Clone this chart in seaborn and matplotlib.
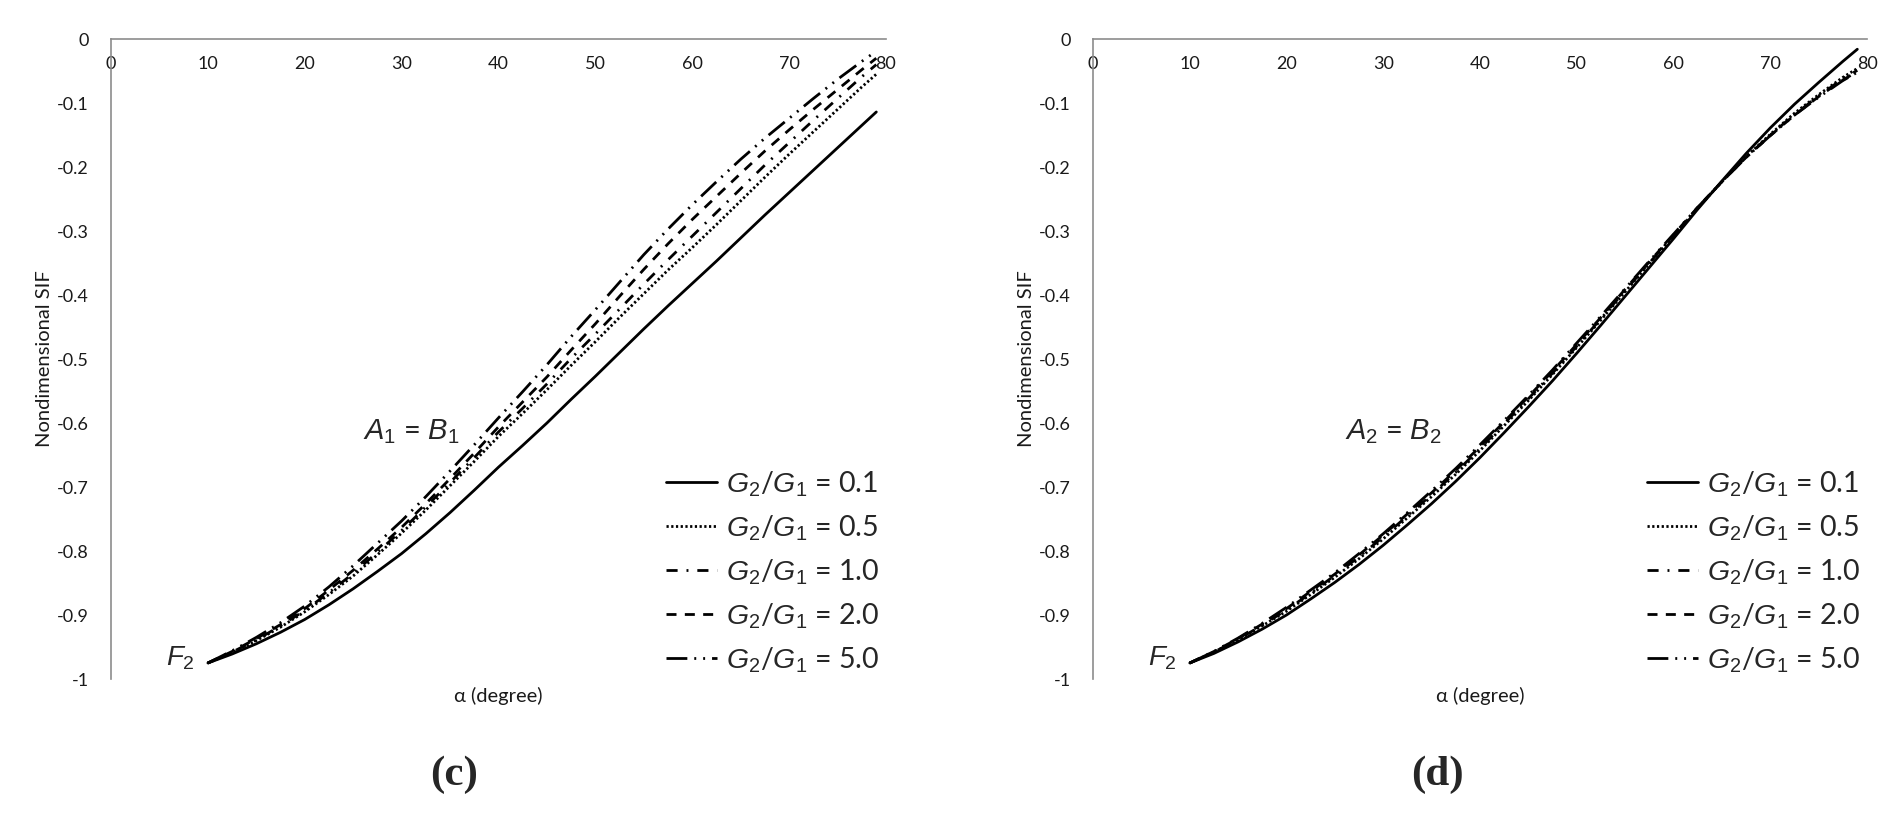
import numpy as np
import pandas as pd
import matplotlib
matplotlib.use("Agg")
import matplotlib.pyplot as plt
import seaborn as sns

# ---------------- data ----------------
alpha = [10, 12.5, 15, 17.5, 20, 22.5, 25, 27.5, 30, 32.5, 35, 37.5, 40, 42.5, 45,
         47.5, 50, 52.5, 55, 57.5, 60, 62.5, 65, 67.5, 70, 72.5, 75, 77.5, 79]
ratio_labels = ["0.1", "0.5", "1.0", "2.0", "5.0"]

# panel (c): A1 = B1
c_g01 = [-0.975, -0.961, -0.945, -0.927, -0.907, -0.884, -0.859, -0.832, -0.804, -0.773, -0.740, -0.705, -0.669, -0.635, -0.600,
         -0.563, -0.527, -0.490, -0.453, -0.417, -0.382, -0.347, -0.311, -0.275, -0.240, -0.205, -0.170, -0.135, -0.114]
c_g05 = [-0.975, -0.959, -0.940, -0.919, -0.895, -0.868, -0.839, -0.806, -0.772, -0.736, -0.698, -0.660, -0.621, -0.585, -0.548,
         -0.510, -0.473, -0.435, -0.398, -0.361, -0.326, -0.290, -0.253, -0.216, -0.180, -0.145, -0.110, -0.075, -0.055]
c_g10 = [-0.975, -0.958, -0.939, -0.917, -0.893, -0.865, -0.835, -0.802, -0.768, -0.731, -0.693, -0.654, -0.614, -0.577, -0.539,
         -0.499, -0.461, -0.422, -0.383, -0.345, -0.308, -0.271, -0.234, -0.197, -0.162, -0.127, -0.093, -0.059, -0.040]
c_g20 = [-0.975, -0.957, -0.937, -0.915, -0.890, -0.861, -0.830, -0.797, -0.763, -0.726, -0.687, -0.647, -0.606, -0.567, -0.528,
         -0.486, -0.445, -0.402, -0.360, -0.320, -0.282, -0.246, -0.210, -0.175, -0.142, -0.110, -0.079, -0.048, -0.030]
c_g50 = [-0.975, -0.956, -0.935, -0.912, -0.886, -0.856, -0.823, -0.788, -0.753, -0.715, -0.675, -0.634, -0.592, -0.551, -0.509,
         -0.465, -0.423, -0.380, -0.337, -0.297, -0.259, -0.223, -0.188, -0.155, -0.124, -0.093, -0.063, -0.035, -0.019]

# panel (d): A2 = B2
d_g01 = [-0.975, -0.960, -0.942, -0.922, -0.900, -0.875, -0.849, -0.821, -0.791, -0.759, -0.726, -0.691, -0.654, -0.615, -0.575,
         -0.534, -0.491, -0.447, -0.402, -0.357, -0.312, -0.266, -0.222, -0.179, -0.139, -0.102, -0.068, -0.035, -0.016]
d_g05 = [-0.975, -0.958, -0.939, -0.917, -0.894, -0.868, -0.841, -0.812, -0.781, -0.748, -0.715, -0.680, -0.643, -0.604, -0.565,
         -0.524, -0.482, -0.439, -0.395, -0.351, -0.308, -0.264, -0.223, -0.184, -0.149, -0.116, -0.087, -0.060, -0.046]
d_g10 = [-0.975, -0.958, -0.938, -0.916, -0.892, -0.866, -0.838, -0.809, -0.778, -0.745, -0.712, -0.677, -0.640, -0.601, -0.562,
         -0.522, -0.480, -0.437, -0.393, -0.350, -0.307, -0.264, -0.223, -0.185, -0.150, -0.118, -0.089, -0.062, -0.049]
d_g20 = [-0.975, -0.957, -0.937, -0.914, -0.890, -0.863, -0.836, -0.806, -0.775, -0.742, -0.709, -0.674, -0.637, -0.598, -0.559,
         -0.519, -0.477, -0.435, -0.391, -0.348, -0.306, -0.263, -0.223, -0.185, -0.151, -0.119, -0.090, -0.064, -0.051]
d_g50 = [-0.975, -0.957, -0.936, -0.913, -0.888, -0.861, -0.834, -0.804, -0.773, -0.740, -0.706, -0.671, -0.634, -0.596, -0.557,
         -0.517, -0.475, -0.433, -0.390, -0.347, -0.305, -0.263, -0.223, -0.185, -0.151, -0.119, -0.091, -0.065, -0.052]

x_ticks = [0, 10, 20, 30, 40, 50, 60, 70, 80]
x_ticklabels = ["0", "10", "20", "30", "40", "50", "60", "70", "80"]
y_ticks = [0, -0.1, -0.2, -0.3, -0.4, -0.5, -0.6, -0.7, -0.8, -0.9, -1.0]
y_ticklabels = ["0", "-0.1", "-0.2", "-0.3", "-0.4", "-0.5", "-0.6", "-0.7", "-0.8", "-0.9", "-1"]

# ---------------- style ----------------
sns.set_theme(style="white")
plt.rcParams["font.family"] = ["Lato", "DejaVu Sans"]
plt.rcParams["axes.unicode_minus"] = False
plt.rcParams["mathtext.fontset"] = "custom"
plt.rcParams["mathtext.it"] = "Liberation Sans:italic"
plt.rcParams["mathtext.rm"] = "Liberation Sans"

linestyles = [
    "-",
    (0, (0.8, 0.9)),
    (0, (4, 3.2, 0.7, 3.2)),
    (0, (3.6, 3.0)),
    (0, (7.5, 2.5, 0.7, 2.5, 0.7, 2.5)),
]

fig = plt.figure(figsize=(18.98, 8.16), dpi=100)
W, H = 1898, 816


def make_axes(left_px, right_px, top_px, bottom_px):
    return fig.add_axes([left_px / W, 1 - bottom_px / H,
                         (right_px - left_px) / W, (bottom_px - top_px) / H])


panels = [
    (make_axes(111, 886, 39, 679), [c_g01, c_g05, c_g10, c_g20, c_g50], "1", "(c)", 454),
    (make_axes(1093, 1867, 39, 679), [d_g01, d_g05, d_g10, d_g20, d_g50], "2", "(d)", 1437),
]

for ax, series, sub, tag, tag_x in panels:
    for vals, lab, ls in zip(series, ratio_labels, linestyles):
        df = pd.DataFrame({"alpha": alpha, "sif": vals})
        sns.lineplot(data=df, x="alpha", y="sif", ax=ax, color="black",
                     linewidth=2.0, linestyle=ls, errorbar=None,
                     label=rf"$G_2$/$G_1$ = {lab}")
    ax.set_xlim(0, 80)
    ax.set_ylim(-1, 0)
    for s in ["right", "bottom"]:
        ax.spines[s].set_visible(False)
    for s in ["left", "top"]:
        ax.spines[s].set_color("#8c8c8c")
        ax.spines[s].set_linewidth(1.2)
    ax.set_xticks(x_ticks)
    ax.set_xticklabels(x_ticklabels)
    ax.set_yticks(y_ticks)
    ax.set_yticklabels(y_ticklabels)
    ax.xaxis.set_ticks_position("top")
    ax.tick_params(axis="x", top=True, labeltop=True, bottom=False, labelbottom=False,
                   length=0, pad=-24, labelsize=13, labelcolor="#1a1a1a")
    ax.tick_params(axis="y", length=0, pad=16, labelsize=13, labelcolor="#1a1a1a")
    ax.xaxis.set_label_position("bottom")
    ax.set_xlabel("α (degree)", fontsize=14.5, labelpad=6, color="#1a1a1a")
    ax.set_ylabel("Nondimensional SIF", fontsize=14.5, labelpad=3, color="#1a1a1a")
    ax.grid(False)

    ax.text(31.0, -0.614, rf"$A_{sub}$ = $B_{sub}$", fontsize=21, ha="center", va="center")
    ax.text(7.2, -0.968, r"$F_2$", fontsize=20, ha="center", va="center")

    ax.legend(loc="upper left", bbox_to_anchor=(0.716, 0.328), frameon=False,
              fontsize=20.5, handlelength=1.8, handletextpad=0.3, labelspacing=0.51,
              borderaxespad=0, borderpad=0)

    fig.text(tag_x / W, 1 - 775 / H, tag, fontsize=31, fontweight="bold",
             family="Liberation Serif", ha="center", va="center")

fig.savefig("out.png", dpi=100)
